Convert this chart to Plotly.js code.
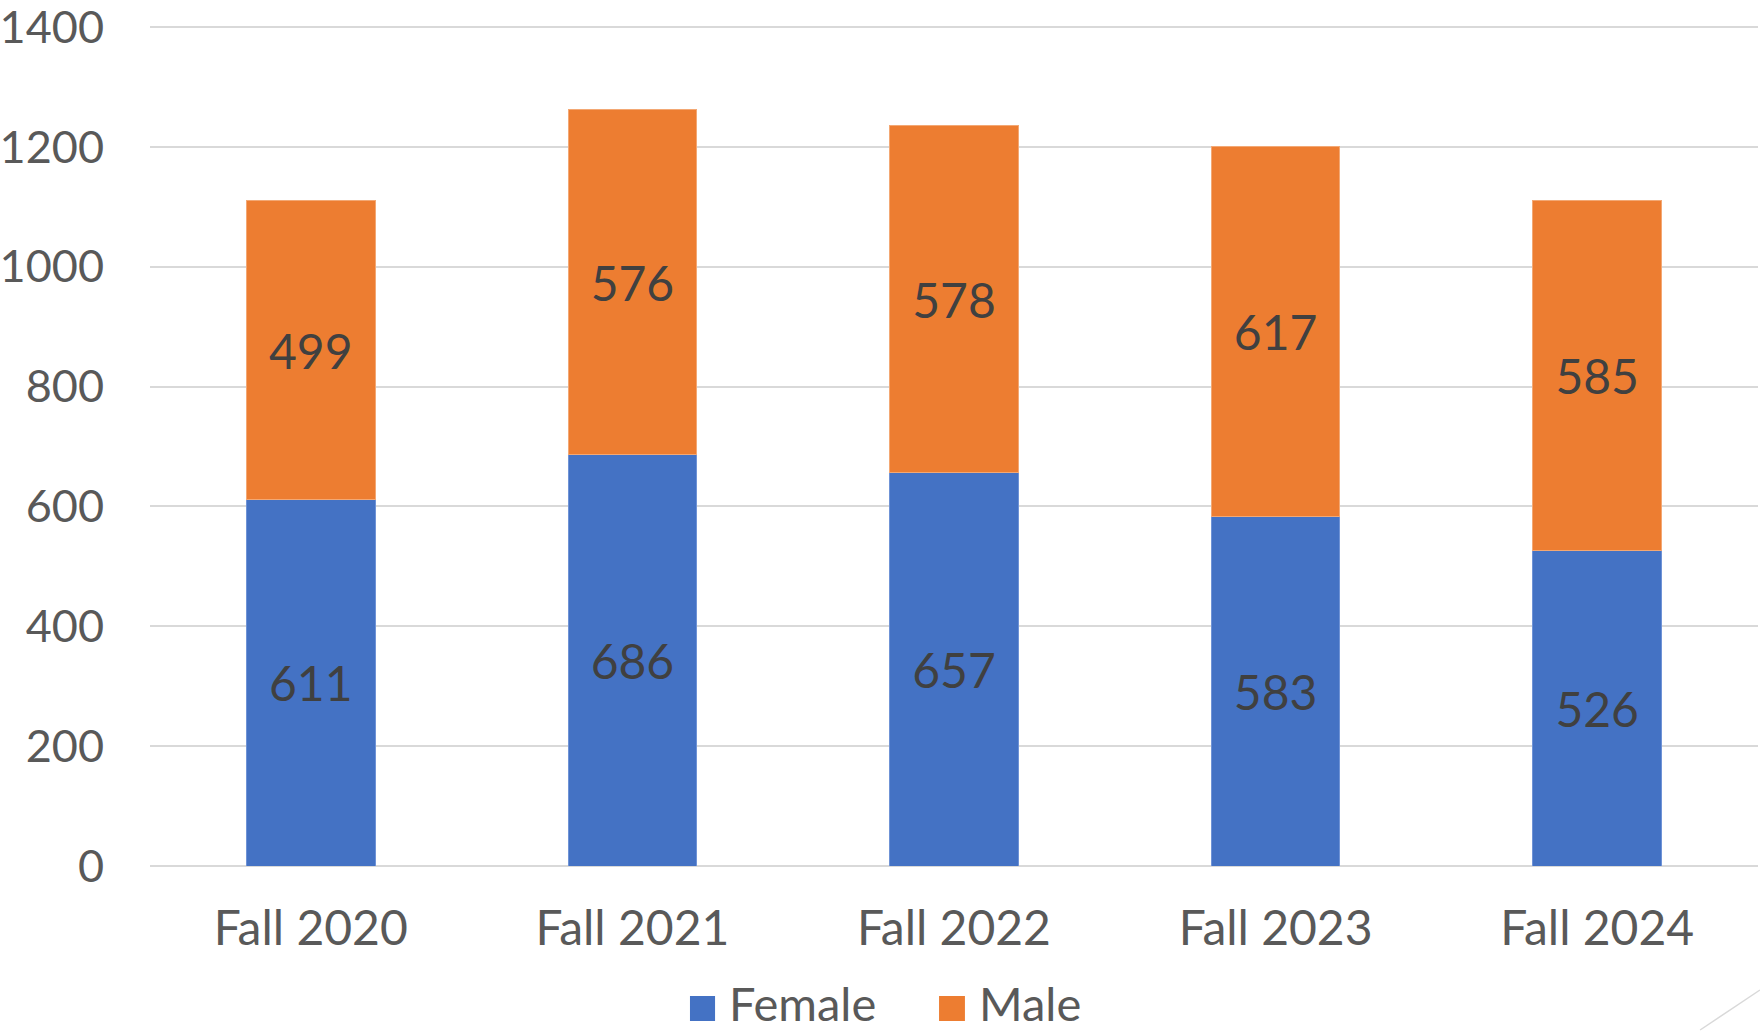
<!DOCTYPE html>
<html>
<head>
<meta charset="utf-8">
<script src="https://cdn.plot.ly/plotly-3.0.1.min.js"></script>
<style>
html,body{margin:0;padding:0;background:#fff;}
#chart{width:1760px;height:1031px;}
</style>
</head>
<body>
<div id="chart"></div>
<script>
const categories = ["Fall 2020", "Fall 2021", "Fall 2022", "Fall 2023", "Fall 2024"];
const female = [611, 686, 657, 583, 526];
const male = [499, 576, 578, 617, 585];
const seriesNames = ["Female", "Male"];
const seriesColors = ["#4472C4", "#ED7D31"];
const yTicks = [0, 200, 400, 600, 800, 1000, 1200, 1400];

const FONT = "Lato, 'Open Sans', sans-serif";
const labelFont = {family: FONT, size: 48, color: "#404040"};
const axisColor = "#595959";

const traces = [female, male].map((vals, i) => ({
  type: "bar", name: seriesNames[i], x: categories, y: vals,
  marker: {color: seriesColors[i], line: {color: i === 0 ? "#6f93d6" : "#f3a874", width: 1}},
  texttemplate: "%{y}", textposition: "inside",
  insidetextanchor: "middle", textfont: labelFont, constraintext: "none",
  hoverinfo: "y+name", showlegend: false
}));

// Custom legend (swatches + labels) below the plot; plot height 845px, bottom at 866px
const PH = 845;
const py = v => (866 - v) / PH;   // pixel row -> paper y
const legendPos = [
  {sx0: 0.3358, sx1: 0.3514, tx: 0.3588},
  {sx0: 0.4907, sx1: 0.5068, tx: 0.5143}
];
const legendShapes = legendPos.map((p, i) => ({
  type: "rect", xref: "paper", yref: "paper",
  x0: p.sx0, x1: p.sx1, y0: py(1021), y1: py(996),
  fillcolor: seriesColors[i], line: {width: 0}
}));
const legendAnnots = legendPos.map((p, i) => ({
  xref: "paper", yref: "paper", x: p.tx, y: py(1003),
  xanchor: "left", yanchor: "middle", showarrow: false,
  text: seriesNames[i], font: {family: FONT, size: 47, color: axisColor}
}));

const layout = {
  width: 1760, height: 1031,
  margin: {l: 150, r: 2, t: 1031 - 165 - PH, b: 165, pad: 0, autoexpand: false},
  paper_bgcolor: "#ffffff", plot_bgcolor: "#ffffff",
  barmode: "stack", bargap: 0.6,
  font: {family: FONT, size: 48, color: axisColor},
  xaxis: {
    type: "category", showgrid: false, zeroline: false, showline: false,
    ticks: "", tickfont: {family: FONT, size: 48, color: axisColor},
    ticklabelstandoff: 30, fixedrange: true, automargin: false
  },
  yaxis: {
    range: [0, 1410], tickvals: yTicks, ticktext: yTicks.map(String),
    showgrid: true, gridcolor: "#d9d9d9", gridwidth: 2,
    zeroline: true, zerolinecolor: "#d9d9d9", zerolinewidth: 2,
    showline: false, ticks: "", tickfont: {family: FONT, size: 45, color: axisColor},
    ticklabelstandoff: 45, ticklabeloverflow: "allow",
    fixedrange: true, automargin: false
  },
  showlegend: false,
  annotations: legendAnnots,
  shapes: legendShapes.concat([
    {type: "line", xref: "paper", yref: "paper", x0: 0.964, y0: py(1030), x1: 1.0012, y1: py(990),
     line: {color: "#d9d9d9", width: 1.5}}
  ])
};

Plotly.newPlot("chart", traces, layout, {displayModeBar: false, staticPlot: true});
</script>
</body>
</html>
